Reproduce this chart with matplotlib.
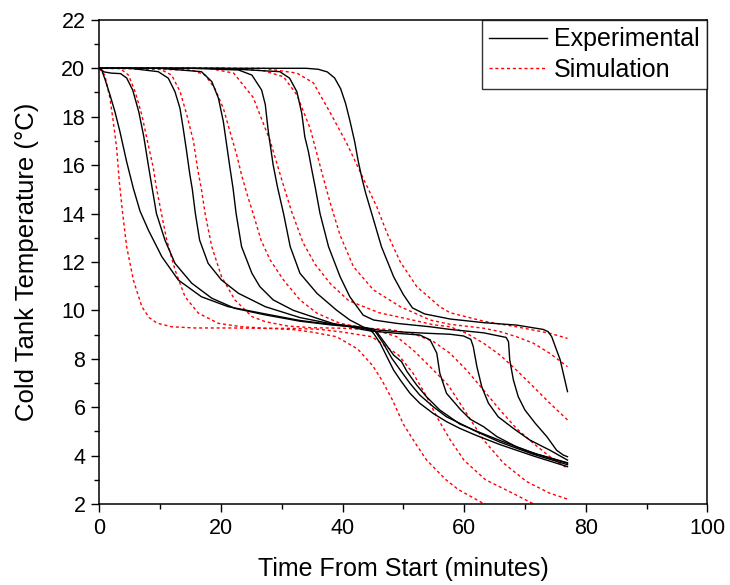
import matplotlib
matplotlib.use("Agg")
import matplotlib.pyplot as plt
from matplotlib.ticker import MultipleLocator

plt.rcParams['font.family'] = ['Liberation Sans', 'DejaVu Sans']

# ---------------- Experimental curves (time in minutes, temperature in °C) ----------------
e1_t = [0, 0.4, 1.0, 1.76, 2.58, 3.4, 4.5, 5.6, 6.7, 8.1, 10.3, 13.0, 16.8, 21.2, 27.3, 33, 38, 42.5,
        44.5, 45.1, 46.2, 47.3, 48.4, 49.5, 51.1, 52.7, 54.9, 57.1, 59.3, 62.1, 65.9, 71.4, 77.0]
e1_T = [20, 19.93, 19.5, 18.9, 18.2, 17.38, 16.14, 15.04, 14.1, 13.3, 12.21, 11.25, 10.56, 10.15, 9.85, 9.58, 9.42, 9.3,
        9.2, 9.05, 8.64, 8.08, 7.53, 7.12, 6.57, 6.16, 5.74, 5.40, 5.12, 4.82, 4.45, 3.98, 3.54]

e2_t = [0, 0.8, 2, 3.5, 4.5, 5.5, 6.5, 7.3, 8.0, 8.7, 9.4, 10.8, 12.45, 15.2, 18.5, 22.3, 27.3, 33, 38, 42.5,
        44.5, 45.4, 46.7, 48.1, 49.5, 51.1, 52.7, 54.9, 57.1, 59.3, 62.1, 65.9, 71.4, 77.0]
e2_T = [20, 19.85, 19.8, 19.78, 19.6, 19.1, 18.2, 17.2, 16.1, 15.04, 14.0, 12.9, 11.94, 11.12, 10.5, 10.08, 9.81, 9.55, 9.4, 9.3,
        9.22, 9.12, 8.64, 8.02, 7.53, 6.98, 6.5, 6.02, 5.6, 5.33, 4.98, 4.55, 4.05, 3.62]

e3_t = [0, 5, 9.7, 11.35, 12.45, 13.27, 13.8, 14.37, 14.9, 15.3, 15.8, 16.5, 17.9, 20.1, 22.9, 27.3, 33, 38, 42.5,
        44.5, 45.6, 47.0, 48.4, 49.7, 50.6, 52.2, 53.8, 56.0, 59.3, 62.1, 65.9, 71.4, 77.0]
e3_T = [20, 20, 19.86, 19.59, 19.03, 18.35, 17.52, 16.55, 15.6, 15.0, 14.0, 12.9, 11.94, 11.25, 10.7, 10.15, 9.7, 9.45, 9.32,
        9.22, 9.12, 8.64, 8.15, 7.88, 7.47, 6.91, 6.43, 5.88, 5.3, 5.0, 4.62, 4.1, 3.7]

e4_t = [0, 10, 16.8, 18.5, 19.6, 20.4, 20.95, 21.5, 22.0, 22.5, 23.4, 25.1, 26.4, 28.6, 31.9, 35.8, 38.5, 41.2, 43,
        44.5, 48.9, 52.7, 54.4, 55.5, 56.0, 57.1, 59.4, 61.0, 63.2, 65.4, 68.6, 72, 77.0]
e4_T = [20, 20, 19.86, 19.45, 18.76, 17.8, 16.83, 15.87, 15.04, 14.0, 12.63, 11.53, 10.98, 10.43, 10.0, 9.67, 9.45, 9.32, 9.22,
        9.15, 9.05, 8.98, 8.78, 8.23, 7.4, 6.57, 5.9, 5.5, 5.19, 4.78, 4.36, 4.05, 3.68]

e5_t = [0, 15, 22.9, 25.1, 26.7, 27.3, 27.8, 28.6, 29.3, 30.3, 31.4, 33.0, 35.8, 39.0, 41.2, 43.5, 46, 50, 54,
        57.7, 59.9, 61.1, 61.5, 62.1, 62.9, 64.0, 65.6, 68.1, 70.8, 74.1, 77.0]
e5_T = [20, 20, 19.93, 19.72, 19.1, 18.5, 17.38, 16.0, 15.1, 14.0, 12.63, 11.53, 10.7, 10.01, 9.6, 9.3, 9.18, 9.1, 9.05,
        9.01, 8.94, 8.8, 8.5, 7.67, 6.84, 6.16, 5.6, 5.12, 4.64, 4.22, 3.81]

e6_t = [0, 20, 29.7, 31.3, 32.5, 33.3, 33.8, 34.4, 34.9, 35.5, 36.3, 37.7, 39.6, 41.2, 43.4, 45.1, 48.9, 54.4,
        57.7, 63.2, 66.9, 67.3, 67.5, 68.1, 68.9, 70.0, 71.7, 73.6, 75.2, 76.3, 77.0]
e6_T = [20, 20, 19.86, 19.59, 19.03, 18.14, 17.17, 16.55, 15.87, 15.1, 14.0, 12.63, 11.39, 10.56, 9.8, 9.6, 9.46, 9.32,
        9.21, 9.07, 8.88, 8.7, 7.95, 7.12, 6.43, 5.88, 5.33, 4.78, 4.22, 4.02, 3.95]

e7_t = [0, 25, 34, 36, 37.5, 38.7, 39.7, 40.5, 41.2, 42.0, 42.6, 43.2, 43.8, 44.8, 46.4, 48.4, 50.0, 51.5, 53.5, 57.7,
        63.2, 68.6, 73.0, 73.8, 74.4, 75.2, 75.8, 76.3, 77.0]
e7_T = [20, 20, 20, 19.96, 19.85, 19.6, 19.15, 18.55, 17.85, 16.97, 16.14, 15.45, 14.85, 14.0, 12.63, 11.39, 10.65, 10.1, 9.85, 9.64,
        9.49, 9.39, 9.21, 9.12, 8.91, 8.36, 7.95, 7.4, 6.64]

# ---------------- Simulation curves ----------------
s1_t = [0, 0.9, 1.76, 2.3, 2.86, 3.3, 3.8, 4.5, 5.6, 7.0, 8.2, 9.5, 11.9, 15.7, 22, 28, 32, 35,
        39, 42.5, 45, 46.5, 48.2, 50, 52, 53.8, 57, 59, 63.3, 68, 77]
s1_T = [20, 19.72, 18.76, 17.8, 16.69, 15.3, 14.1, 12.63, 11.25, 10.15, 9.7, 9.47, 9.32, 9.27, 9.27, 9.25, 9.2, 9.1,
        8.91, 8.4, 7.7, 7.1, 6.3, 5.3, 4.5, 3.82, 3.0, 2.6, 2.0, 1.6, 1.2]

s2_t = [0, 3.4, 4.8, 5.9, 7.0, 8.06, 8.9, 9.3, 10.0, 11.1, 12.45, 14.1, 16.3, 19.6, 23.4, 27.3, 32, 36, 40,
        44.8, 49.2, 51.6, 53.8, 55.5, 57.7, 60, 63.5, 68, 71.4, 77]
s2_T = [20, 20, 19.72, 19.03, 18.07, 16.83, 15.87, 15.2, 14.28, 12.9, 11.67, 10.56, 9.88, 9.46, 9.32, 9.26, 9.25, 9.22, 9.1,
        8.91, 8.15, 7.4, 6.45, 5.6, 4.65, 3.8, 3.0, 2.44, 2.0, 1.5]

s3_t = [0, 9.7, 11.9, 13.3, 14.4, 15.5, 16.2, 16.8, 17.4, 18.5, 20.1, 22.3, 25.1, 27.3, 31, 35, 40, 44,
        46.5, 48.9, 51.6, 54.4, 57.4, 60.4, 63.2, 66.5, 70.3, 74.1, 77]
s3_T = [20, 20, 19.72, 19.03, 18.07, 16.97, 15.8, 15.0, 14.0, 12.63, 11.39, 10.43, 9.74, 9.53, 9.35, 9.28, 9.26, 9.2,
        9.1, 8.91, 8.36, 7.67, 6.9, 5.74, 4.64, 3.68, 2.92, 2.44, 2.2]

s4_t = [0, 15.2, 17.4, 19.0, 20.4, 21.5, 22.6, 23.4, 24.3, 25.3, 26.6, 28.1, 30.3, 33.0, 35.8, 39.6, 44.0,
        48, 52, 55, 57.7, 60.4, 63.2, 65.9, 68.6, 71.4, 74.1, 77]
s4_T = [20, 19.93, 19.72, 19.17, 18.35, 17.38, 16.42, 15.59, 14.8, 14.0, 12.9, 12.08, 11.25, 10.43, 9.88, 9.46, 9.26,
        9.2, 9.0, 8.7, 8.22, 7.53, 6.7, 5.88, 5.12, 4.5, 3.95, 3.47]

s5_t = [0, 18, 22.1, 25.3, 28.1, 30, 31.6, 33.5, 35.5, 38, 41, 46, 51.5, 55, 57.7, 60.4, 63.2, 65.9,
        68.6, 71.4, 74.1, 77]
s5_T = [20, 20, 19.8, 18.8, 17.0, 15.4, 14.1, 12.8, 11.9, 11.1, 10.4, 9.9, 9.6, 9.4, 9.32, 9.05, 8.64, 8.15,
        7.53, 6.84, 6.16, 5.47]

s6_t = [0, 22, 27, 30.3, 32.5, 34.7, 36.6, 37.9, 39.6, 41.8, 45.1, 49.5, 54.4, 57.7, 63.2, 65.9, 68.6,
        71.4, 74.1, 77]
s6_T = [20, 20, 19.9, 19.65, 18.9, 17.5, 15.7, 14.5, 13.1, 11.8, 10.84, 10.15, 9.6, 9.42, 9.26, 9.12, 8.91,
        8.64, 8.22, 7.67]

s7_t = [0, 27, 32.5, 35.2, 37.9, 40.7, 43.5, 45.6, 47.3, 49.5, 52.2, 56, 57.7, 63.2, 68.6, 74.1, 77]
s7_T = [20, 20, 19.8, 19.4, 18.2, 16.9, 15.4, 14.3, 13.2, 12.0, 10.98, 10.15, 9.9, 9.55, 9.32, 9.05, 8.84]

experimental = [(e1_t, e1_T), (e2_t, e2_T), (e3_t, e3_T), (e4_t, e4_T),
                (e5_t, e5_T), (e6_t, e6_T), (e7_t, e7_T)]
simulation = [(s1_t, s1_T), (s2_t, s2_T), (s3_t, s3_T), (s4_t, s4_T),
              (s5_t, s5_T), (s6_t, s6_T), (s7_t, s7_T)]

x_label = "Time From Start (minutes)"
y_label = "Cold Tank Temperature (\u00b0C)"
legend_labels = ["Experimental", "Simulation"]

fig = plt.figure(figsize=(7.30, 5.85), dpi=100)
ax = fig.add_axes([0.136, 0.1386, 0.833, 0.8274])

for i, (t, T) in enumerate(experimental):
    ax.plot(t, T, color="black", lw=1.0, label=legend_labels[0] if i == 0 else None, zorder=3)
for i, (t, T) in enumerate(simulation):
    ax.plot(t, T, color="#ff0000", lw=1.0, linestyle=(0, (2.2, 2.0)),
            label=legend_labels[1] if i == 0 else None, zorder=2)

ax.set_xlim(0, 100)
ax.set_ylim(2, 22)
ax.xaxis.set_major_locator(MultipleLocator(20))
ax.xaxis.set_minor_locator(MultipleLocator(10))
ax.yaxis.set_major_locator(MultipleLocator(2))
ax.yaxis.set_minor_locator(MultipleLocator(1))
ax.tick_params(which="major", direction="out", length=6, width=1.0, labelsize=15.5, pad=4)
ax.tick_params(which="minor", direction="out", length=3.5, width=1.0)
for sp in ax.spines.values():
    sp.set_linewidth(1.1)

ax.set_xlabel(x_label, fontsize=18, labelpad=13)
ax.set_ylabel(y_label, fontsize=18.5, labelpad=16)

leg = ax.legend(loc="upper right", fontsize=18, frameon=True, fancybox=False,
                borderaxespad=0, borderpad=0.3, labelspacing=0.25,
                handlelength=2.3, handletextpad=0.3)
leg.get_frame().set_edgecolor("black")
leg.get_frame().set_linewidth(1.0)

fig.savefig("out.png", dpi=100)
